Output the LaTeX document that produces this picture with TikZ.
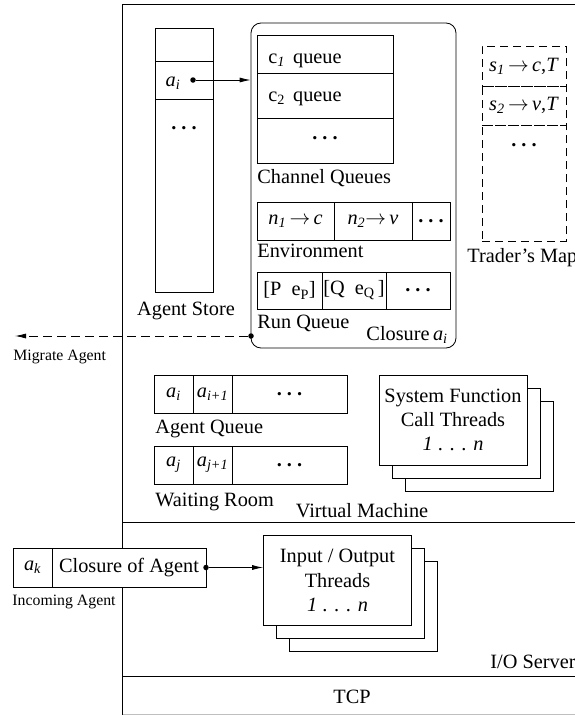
\documentclass[tikz,border=0pt]{standalone}
\usepackage{amsmath}
\usepackage{fontspec}
\setmainfont{Liberation Serif}
\usetikzlibrary{positioning, arrows, arrows.meta}

\newcommand{\isub}[2]{\textit{#1}$_{\textit{#2}}$}
\newcommand{\bdots}{\textbf{.\hspace{0.25em}.\hspace{0.25em}.}}

\begin{document}
\begin{tikzpicture}[x=1pt, y=-1pt, >={Latex[length=11pt,width=5pt]}, line width=0.8pt,
    font=\fontsize{20.3}{24.4}\selectfont,
    cell/.style={draw, rectangle, inner sep=0pt, outer sep=0pt},
    txt/.style={inner sep=1pt},
    smalltxt/.style={inner sep=1pt, font=\fontsize{15.8}{19}\selectfont},
    threadbox/.style={draw, fill=white, inner sep=0pt, minimum width=148pt, minimum height=90pt, align=center},
    bullet/.style={circle, fill, inner sep=0pt, minimum size=5.5pt},
    dashbox/.style={draw, dash pattern=on 8pt off 5pt, inner sep=0pt, outer sep=0pt}]

\useasboundingbox (0,0) rectangle (575,715);

% frame: virtual machine, I/O server, TCP
\draw (122.5,715) -- (122.5,4) -- (575,4);
\draw (122.5,522) -- (575,522);
\draw (122.5,676) -- (575,676);
\draw[black!25] (122.5,714.5) -- (575,714.5);

% agent store
\node (st1) [cell, minimum width=58pt, minimum height=33pt] at (184,44.5) {};
\node (st2) [cell, minimum width=58pt, minimum height=38pt, below=0pt of st1] {};
\node (st3) [cell, minimum width=58pt, minimum height=193pt, below=0pt of st2] {};
\node (ai) [txt, anchor=base] at (173,86) {\isub{a}{i}};
\node (aidot) [bullet] at (193,80) {};
\node [txt] at (184,128) {\bdots};
\node [txt, anchor=base] at (186,315) {Agent Store};

% closure of agent a_i
\node (clo) [draw, rounded corners=10pt, inner sep=0pt, minimum width=205pt, minimum height=325pt] at (353.5,185.5) {};
\draw[->] (aidot) -- (aidot -| clo.west);

\node (cq1) [cell, minimum width=136pt, minimum height=38pt] at (325,54) {};
\node (cq2) [cell, minimum width=136pt, minimum height=45pt, below=0pt of cq1] {};
\node (cq3) [cell, minimum width=136pt, minimum height=45pt, below=0pt of cq2] {};
\node [txt, anchor=base west] at (267,63) {c$_{\textit{1}}$\hspace{0.4em}queue};
\node [txt, anchor=base west] at (267,101.5) {c$_{\text{2}}$\hspace{0.4em}queue};
\node [txt] at (325,138) {\bdots};
\node [txt, anchor=base west] at (256,183) {Channel Queues};

\node (en1) [cell, minimum width=77pt, minimum height=38pt] at (295.5,221) {\isub{n}{1}\,$\rightarrow$\,\textit{c}};
\node (en2) [cell, minimum width=78pt, minimum height=38pt, right=0pt of en1] {\isub{n}{2}$\rightarrow$\,\textit{v}};
\node (en3) [cell, minimum width=38pt, minimum height=38pt, right=0pt of en2] {\bdots};
\node [txt, anchor=base west] at (256,257) {Environment};

\node (rq1) [cell, minimum width=65pt, minimum height=37pt] at (289.5,290.5) {[P\hspace{0.5em}e$_{\text{P}}$]};
\node (rq2) [cell, minimum width=64pt, minimum height=37pt, right=0pt of rq1] {[Q\hspace{0.5em}e$_{\text{Q}}$\,]};
\node (rq3) [cell, minimum width=64pt, minimum height=37pt, right=0pt of rq2] {\bdots};
\node [txt, anchor=base west] at (256,328) {Run Queue};
\node [txt, anchor=base east] at (449,340) {Closure\,\isub{a}{i}};

% migration
\node (migdot) [bullet] at (251,336) {};
\coordinate (migend) at (15,336);
\draw[->, dash pattern=on 9pt off 5pt] (migdot) -- (migend);
\node [smalltxt, anchor=base west] at (12,360) {Migrate Agent};

% trader's map
\node (tm1) [dashbox, minimum width=84pt, minimum height=40pt] at (524,66) {\isub{s}{1}\,$\rightarrow$\,\textit{c},\textit{T}};
\node (tm2) [dashbox, minimum width=84pt, minimum height=39pt, below=0pt of tm1] {\isub{s}{2}\,$\rightarrow$\,\textit{v},\textit{T}};
\node (tm3) [dashbox, minimum width=84pt, minimum height=116pt, below=0pt of tm2] {};
\node [txt] at (524,145) {\bdots};
\node [txt, anchor=base west] at (466,262) {Trader's Map};

% agent queue and waiting room
\node (aq1) [cell, minimum width=39pt, minimum height=38pt] at (173.5,394) {\isub{a}{i}};
\node (aq2) [cell, minimum width=39pt, minimum height=38pt, right=0pt of aq1] {\isub{a}{i+1}};
\node (aq3) [cell, minimum width=115pt, minimum height=38pt, right=0pt of aq2] {\bdots};
\node [txt, anchor=base west] at (154,433) {Agent Queue};

\node (wr1) [cell, minimum width=39pt, minimum height=38pt] at (173.5,465) {\isub{a}{j}};
\node (wr2) [cell, minimum width=39pt, minimum height=38pt, right=0pt of wr1] {\isub{a}{j+1}};
\node (wr3) [cell, minimum width=115pt, minimum height=38pt, right=0pt of wr2] {\bdots};
\node [txt, anchor=base west] at (154,506) {Waiting Room};
\node [txt, anchor=base] at (362,517) {Virtual Machine};

% system function call threads
\node (sf3) [threadbox] at (479,446) {};
\node (sf2) [threadbox] at (466,433) {};
\node (sf1) [threadbox] at (453,420) {System Function\\Call Threads\\\textit{1} . . . \textit{n}};

% I/O threads
\node (io3) [threadbox] at (363,606) {};
\node (io2) [threadbox] at (350,593.5) {};
\node (io1) [threadbox] at (337.5,580.5) {Input / Output\\Threads\\\textit{1} . . . \textit{n}};

% incoming agent
\node (ia1) [cell, fill=white, minimum width=39pt, minimum height=39pt] at (32.5,567.5) {\isub{a}{k}};
\node (ia2) [cell, fill=white, minimum width=154pt, minimum height=39pt, right=0pt of ia1] {Closure of Agent};
\node (iadot) [bullet] at (ia2.east) {};
\draw[->] (iadot) -- (iadot -| io1.west);
\node [smalltxt, anchor=base] at (64,605) {Incoming Agent};

\node [txt, anchor=base west] at (489,668) {I/O Server};
\node [txt, anchor=base] at (352,703) {TCP};

\end{tikzpicture}
\end{document}
